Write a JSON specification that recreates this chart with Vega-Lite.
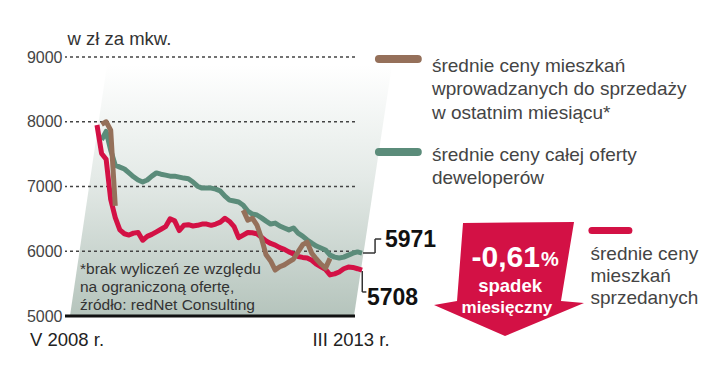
{
  "$schema": "https://vega.github.io/schema/vega-lite/v6.json",
  "width": 290,
  "height": 259,
  "autosize": {"type": "none"},
  "padding": {"left": 65, "top": 57, "right": 365, "bottom": 71},
  "background": "white",
  "config": {
    "view": {"stroke": null},
    "font": "Liberation Sans",
    "axis": {"grid": false, "domain": false, "ticks": false, "tickSize": 0}
  },
  "data": {"values": [{}]},
  "datasets": {
    "ceny": [
      {"m":1,"s":"oferta","v":7720},{"m":2,"s":"oferta","v":7850},{"m":3,"s":"oferta","v":7560},{"m":4,"s":"oferta","v":7330},{"m":5,"s":"oferta","v":7300},{"m":6,"s":"oferta","v":7270},{"m":7,"s":"oferta","v":7210},{"m":8,"s":"oferta","v":7150},{"m":9,"s":"oferta","v":7100},{"m":10,"s":"oferta","v":7070},{"m":11,"s":"oferta","v":7100},{"m":12,"s":"oferta","v":7160},{"m":13,"s":"oferta","v":7210},{"m":14,"s":"oferta","v":7190},{"m":15,"s":"oferta","v":7175},{"m":16,"s":"oferta","v":7160},{"m":17,"s":"oferta","v":7160},{"m":18,"s":"oferta","v":7145},{"m":19,"s":"oferta","v":7130},{"m":20,"s":"oferta","v":7120},{"m":21,"s":"oferta","v":7070},{"m":22,"s":"oferta","v":7005},{"m":23,"s":"oferta","v":6975},{"m":24,"s":"oferta","v":6975},{"m":25,"s":"oferta","v":6975},{"m":26,"s":"oferta","v":6960},{"m":27,"s":"oferta","v":6930},{"m":28,"s":"oferta","v":6850},{"m":29,"s":"oferta","v":6790},{"m":30,"s":"oferta","v":6775},{"m":31,"s":"oferta","v":6760},{"m":32,"s":"oferta","v":6710},{"m":33,"s":"oferta","v":6620},{"m":34,"s":"oferta","v":6575},{"m":35,"s":"oferta","v":6560},{"m":36,"s":"oferta","v":6515},{"m":37,"s":"oferta","v":6465},{"m":38,"s":"oferta","v":6420},{"m":39,"s":"oferta","v":6435},{"m":40,"s":"oferta","v":6390},{"m":41,"s":"oferta","v":6360},{"m":42,"s":"oferta","v":6330},{"m":43,"s":"oferta","v":6360},{"m":44,"s":"oferta","v":6280},{"m":45,"s":"oferta","v":6235},{"m":46,"s":"oferta","v":6175},{"m":47,"s":"oferta","v":6125},{"m":48,"s":"oferta","v":6080},{"m":49,"s":"oferta","v":6050},{"m":50,"s":"oferta","v":6020},{"m":51,"s":"oferta","v":5940},{"m":52,"s":"oferta","v":5910},{"m":53,"s":"oferta","v":5895},{"m":54,"s":"oferta","v":5910},{"m":55,"s":"oferta","v":5940},{"m":56,"s":"oferta","v":5970},{"m":57,"s":"oferta","v":5990},{"m":58,"s":"oferta","v":5971},
      {"m":0,"s":"sprzedane","v":7950},{"m":1,"s":"sprzedane","v":7510},{"m":2,"s":"sprzedane","v":7420},{"m":3,"s":"sprzedane","v":6800},{"m":4,"s":"sprzedane","v":6520},{"m":5,"s":"sprzedane","v":6330},{"m":6,"s":"sprzedane","v":6270},{"m":7,"s":"sprzedane","v":6250},{"m":8,"s":"sprzedane","v":6280},{"m":9,"s":"sprzedane","v":6290},{"m":10,"s":"sprzedane","v":6170},{"m":11,"s":"sprzedane","v":6230},{"m":12,"s":"sprzedane","v":6260},{"m":13,"s":"sprzedane","v":6300},{"m":14,"s":"sprzedane","v":6340},{"m":15,"s":"sprzedane","v":6380},{"m":16,"s":"sprzedane","v":6500},{"m":17,"s":"sprzedane","v":6470},{"m":18,"s":"sprzedane","v":6320},{"m":19,"s":"sprzedane","v":6400},{"m":20,"s":"sprzedane","v":6410},{"m":21,"s":"sprzedane","v":6390},{"m":22,"s":"sprzedane","v":6400},{"m":23,"s":"sprzedane","v":6420},{"m":24,"s":"sprzedane","v":6420},{"m":25,"s":"sprzedane","v":6400},{"m":26,"s":"sprzedane","v":6420},{"m":27,"s":"sprzedane","v":6450},{"m":28,"s":"sprzedane","v":6510},{"m":29,"s":"sprzedane","v":6460},{"m":30,"s":"sprzedane","v":6380},{"m":31,"s":"sprzedane","v":6210},{"m":32,"s":"sprzedane","v":6250},{"m":33,"s":"sprzedane","v":6290},{"m":34,"s":"sprzedane","v":6285},{"m":35,"s":"sprzedane","v":6270},{"m":36,"s":"sprzedane","v":6215},{"m":37,"s":"sprzedane","v":6160},{"m":38,"s":"sprzedane","v":6120},{"m":39,"s":"sprzedane","v":6095},{"m":40,"s":"sprzedane","v":6055},{"m":41,"s":"sprzedane","v":6030},{"m":42,"s":"sprzedane","v":5990},{"m":43,"s":"sprzedane","v":5960},{"m":44,"s":"sprzedane","v":5920},{"m":45,"s":"sprzedane","v":5905},{"m":46,"s":"sprzedane","v":5895},{"m":47,"s":"sprzedane","v":5860},{"m":48,"s":"sprzedane","v":5800},{"m":49,"s":"sprzedane","v":5760},{"m":50,"s":"sprzedane","v":5720},{"m":51,"s":"sprzedane","v":5635},{"m":52,"s":"sprzedane","v":5650},{"m":53,"s":"sprzedane","v":5680},{"m":54,"s":"sprzedane","v":5730},{"m":55,"s":"sprzedane","v":5755},{"m":56,"s":"sprzedane","v":5750},{"m":57,"s":"sprzedane","v":5730},{"m":58,"s":"sprzedane","v":5708},
      {"m":1,"s":"nowe","odc":"a","v":7960},{"m":2,"s":"nowe","odc":"a","v":8000},{"m":3,"s":"nowe","odc":"a","v":7870},{"m":4,"s":"nowe","odc":"a","v":6700},
      {"m":32,"s":"nowe","odc":"b","v":6635},{"m":33,"s":"nowe","odc":"b","v":6480},{"m":34,"s":"nowe","odc":"b","v":6510},{"m":35,"s":"nowe","odc":"b","v":6405},{"m":36,"s":"nowe","odc":"b","v":6200},{"m":37,"s":"nowe","odc":"b","v":5945},{"m":38,"s":"nowe","odc":"b","v":5850},{"m":39,"s":"nowe","odc":"b","v":5710},{"m":40,"s":"nowe","odc":"b","v":5760},{"m":41,"s":"nowe","odc":"b","v":5790},{"m":42,"s":"nowe","odc":"b","v":5835},{"m":43,"s":"nowe","odc":"b","v":5880},{"m":44,"s":"nowe","odc":"b","v":5990},{"m":45,"s":"nowe","odc":"b","v":6100},{"m":46,"s":"nowe","odc":"b","v":6140},{"m":47,"s":"nowe","odc":"b","v":5970},{"m":48,"s":"nowe","odc":"b","v":5880},{"m":49,"s":"nowe","odc":"b","v":5800},{"m":50,"s":"nowe","odc":"b","v":5740},{"m":51,"s":"nowe","odc":"b","v":5890}
    ]
  },
  "layer": [
    {
      "data": {"values": [{"v": 5000, "lewa": -5.91, "prawa": 56.24}, {"v": 8875, "lewa": 2.19, "prawa": 64.55}]},
      "mark": {"type": "area", "orient": "horizontal", "clip": false,
        "color": {"gradient": "linear", "x1": 0, "y1": 0, "x2": 0, "y2": 1,
          "stops": [{"offset": 0, "color": "#ffffff"}, {"offset": 0.45, "color": "#e4eae7"}, {"offset": 1, "color": "#b5c4bc"}]}},
      "encoding": {
        "y": {"field": "v", "type": "quantitative",
          "scale": {"domain": [5000, 9000], "nice": false, "zero": false},
          "axis": {"title": "w zł za mkw.", "values": [5000, 6000, 7000, 8000, 9000], "format": "d",
            "titleAngle": 0, "titleAlign": "left", "titleBaseline": "alphabetic", "titleX": 2, "titleY": -13,
            "titleFontSize": 18.5, "titleFontWeight": "normal", "titleColor": "#333333",
            "labelFontSize": 16, "labelColor": "#444444", "labelPadding": 3}},
        "x": {"field": "lewa", "type": "quantitative",
          "scale": {"domain": [-7, 56.46], "nice": false, "zero": false},
          "axis": {"title": null, "values": [-6.67, 55.47], "labelExpr": "datum.value < 0 ? 'V 2008 r.' : 'III 2013 r.'",
            "labelFontSize": 18.5, "labelColor": "#222222", "labelBaseline": "alphabetic", "labelPadding": 29,
            "labelFlush": false, "labelOverlap": false}},
        "x2": {"field": "prawa"}
      }
    },
    {
      "data": {"values": [{"v": 6000}, {"v": 7000}, {"v": 8000}, {"v": 9000}]},
      "mark": {"type": "rule", "color": "#444444", "strokeWidth": 1.3, "strokeDash": [3, 3]},
      "encoding": {"y": {"field": "v", "type": "quantitative"}}
    },
    {
      "mark": {"type": "rule", "color": "#111111", "strokeWidth": 3},
      "encoding": {"y": {"datum": 5000, "type": "quantitative"}}
    },
    {
      "data": {"name": "ceny"},
      "transform": [{"filter": "datum.s == 'oferta'"}],
      "mark": {"type": "line", "color": "#5b8c7a", "strokeWidth": 5, "strokeJoin": "round", "clip": false},
      "encoding": {"x": {"field": "m", "type": "quantitative"}, "y": {"field": "v", "type": "quantitative"}}
    },
    {
      "data": {"name": "ceny"},
      "transform": [{"filter": "datum.s == 'sprzedane'"}],
      "mark": {"type": "line", "color": "#d31145", "strokeWidth": 5, "strokeJoin": "round", "clip": false},
      "encoding": {"x": {"field": "m", "type": "quantitative"}, "y": {"field": "v", "type": "quantitative"}}
    },
    {
      "data": {"name": "ceny"},
      "transform": [{"filter": "datum.s == 'nowe'"}],
      "mark": {"type": "line", "color": "#95705a", "strokeWidth": 5, "strokeJoin": "round", "clip": false},
      "encoding": {"x": {"field": "m", "type": "quantitative"}, "y": {"field": "v", "type": "quantitative"}, "detail": {"field": "odc"}}
    },
    {"mark": {"type": "rule", "color": "#333333", "strokeWidth": 1.5},
      "encoding": {"x": {"datum": 58.2, "type": "quantitative"}, "x2": {"datum": 60.85}, "y": {"datum": 5973, "type": "quantitative"}}},
    {"mark": {"type": "rule", "color": "#333333", "strokeWidth": 1.5},
      "encoding": {"x": {"datum": 60.85, "type": "quantitative"}, "y": {"datum": 5973, "type": "quantitative"}, "y2": {"datum": 6189}}},
    {"mark": {"type": "rule", "color": "#333333", "strokeWidth": 1.5},
      "encoding": {"x": {"datum": 60.85, "type": "quantitative"}, "x2": {"datum": 62.2}, "y": {"datum": 6189, "type": "quantitative"}}},
    {"mark": {"type": "rule", "color": "#333333", "strokeWidth": 1.5},
      "encoding": {"x": {"datum": 58.05, "type": "quantitative"}, "y": {"datum": 5695, "type": "quantitative"}, "y2": {"datum": 5371}}},
    {"mark": {"type": "rule", "color": "#333333", "strokeWidth": 1.5},
      "encoding": {"x": {"datum": 58.05, "type": "quantitative"}, "x2": {"datum": 58.95}, "y": {"datum": 5371, "type": "quantitative"}}},
    {"mark": {"type": "text", "text": "5971", "align": "left", "baseline": "alphabetic", "fontSize": 23, "fontWeight": "bold", "color": "#111111"},
      "encoding": {"x": {"datum": 63.0, "type": "quantitative"}, "y": {"datum": 6066, "type": "quantitative"}}},
    {"mark": {"type": "text", "text": "5708", "align": "left", "baseline": "alphabetic", "fontSize": 23, "fontWeight": "bold", "color": "#111111"},
      "encoding": {"x": {"datum": 59.08, "type": "quantitative"}, "y": {"datum": 5170, "type": "quantitative"}}},
    {"mark": {"type": "text", "text": ["*brak wyliczeń ze względu", "na ograniczoną ofertę,", "źródło: redNet Consulting"], "align": "left", "baseline": "alphabetic", "fontSize": 15.5, "lineHeight": 18, "color": "#333333"},
      "encoding": {"x": {"datum": -3.72, "type": "quantitative"}, "y": {"datum": 5649, "type": "quantitative"}}},
    {"mark": {"type": "point", "shape": "M-0.613,-0.747L0.867,-0.76L0.693,0.293L1,0.32L-0.053,0.76L-1,0.347L-0.693,0.293Z", "size": 22500, "filled": true, "color": "#d31145", "opacity": 1, "strokeWidth": 0},
      "encoding": {"x": {"datum": 90.16, "type": "quantitative"}, "y": {"datum": 5571, "type": "quantitative"}}},
    {"mark": {"type": "text", "text": "-0,61", "align": "right", "baseline": "alphabetic", "fontSize": 30, "fontWeight": "bold", "color": "#ffffff"},
      "encoding": {"x": {"datum": 96.94, "type": "quantitative"}, "y": {"datum": 5757, "type": "quantitative"}}},
    {"mark": {"type": "text", "text": "%", "align": "left", "baseline": "alphabetic", "fontSize": 20, "fontWeight": "bold", "color": "#ffffff"},
      "encoding": {"x": {"datum": 97.15, "type": "quantitative"}, "y": {"datum": 5765, "type": "quantitative"}}},
    {"mark": {"type": "text", "text": "spadek", "align": "center", "baseline": "alphabetic", "fontSize": 18.5, "fontWeight": "bold", "color": "#ffffff"},
      "encoding": {"x": {"datum": 90.4, "type": "quantitative"}, "y": {"datum": 5371, "type": "quantitative"}}},
    {"mark": {"type": "text", "text": "miesięczny", "align": "center", "baseline": "alphabetic", "fontSize": 17, "fontWeight": "bold", "color": "#ffffff"},
      "encoding": {"x": {"datum": 89.7, "type": "quantitative"}, "y": {"datum": 5046, "type": "quantitative"}}},
    {"mark": {"type": "rule", "color": "#95705a", "strokeWidth": 8, "strokeCap": "round"},
      "encoding": {"x": {"datum": 61.7, "type": "quantitative"}, "x2": {"datum": 70.2}, "y": {"datum": 8969, "type": "quantitative"}}},
    {"mark": {"type": "rule", "color": "#5b8c7a", "strokeWidth": 8, "strokeCap": "round"},
      "encoding": {"x": {"datum": 61.7, "type": "quantitative"}, "x2": {"datum": 70.2}, "y": {"datum": 7533, "type": "quantitative"}}},
    {"mark": {"type": "rule", "color": "#d31145", "strokeWidth": 7, "strokeCap": "round"},
      "encoding": {"x": {"datum": 108.3, "type": "quantitative"}, "x2": {"datum": 116.4}, "y": {"datum": 6320, "type": "quantitative"}}},
    {"mark": {"type": "text", "text": ["średnie ceny mieszkań", "wprowadzanych do sprzedaży", "w ostatnim miesiącu*"], "align": "left", "baseline": "alphabetic", "fontSize": 19, "lineHeight": 23.5, "color": "#444444"},
      "encoding": {"x": {"datum": 73.3, "type": "quantitative"}, "y": {"datum": 8776, "type": "quantitative"}}},
    {"mark": {"type": "text", "text": ["średnie ceny całej oferty", "deweloperów"], "align": "left", "baseline": "alphabetic", "fontSize": 19, "lineHeight": 23.5, "color": "#444444"},
      "encoding": {"x": {"datum": 73.3, "type": "quantitative"}, "y": {"datum": 7394, "type": "quantitative"}}},
    {"mark": {"type": "text", "text": ["średnie ceny", "mieszkań", "sprzedanych"], "align": "left", "baseline": "alphabetic", "fontSize": 19, "lineHeight": 22, "color": "#444444"},
      "encoding": {"x": {"datum": 108.0, "type": "quantitative"}, "y": {"datum": 5865, "type": "quantitative"}}}
  ]
}
